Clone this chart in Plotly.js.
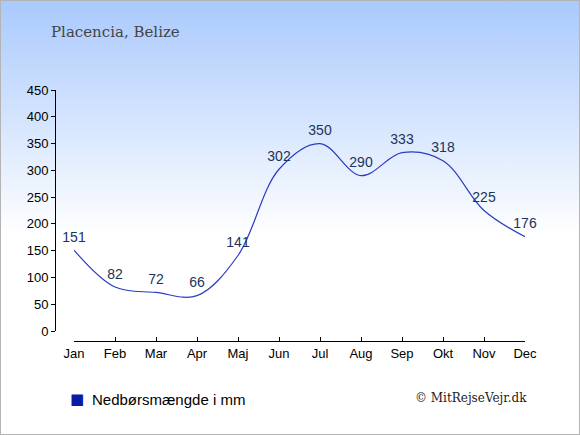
<!DOCTYPE html>
<html>
<head>
<meta charset="utf-8">
<script src="https://cdn.plot.ly/plotly-3.0.1.min.js"></script>
<style>
html,body{margin:0;padding:0;}
body{width:580px;height:435px;background:linear-gradient(to bottom,#a9c9fd 0px,#ffffff 235px,#ffffff 435px);position:relative;overflow:hidden;}
#chart{width:580px;height:435px;}
#frame{position:absolute;left:0;top:0;width:578px;height:433px;border:1px solid #b4b4b4;pointer-events:none;}
</style>
</head>
<body>
<div id="chart"></div>
<div id="frame"></div>
<script>
const months = ["Jan","Feb","Mar","Apr","Maj","Jun","Jul","Aug","Sep","Okt","Nov","Dec"];
const rainfall = [151,82,72,66,141,302,350,290,333,318,225,176];
const seriesName = "Nedbørsmængde i mm";
const yTicks = [0,50,100,150,200,250,300,350,400,450];

const lineTrace = {
  x: months, y: rainfall,
  type: "scatter", mode: "lines+markers+text",
  line: {color: "#2a3cc0", width: 1.2, shape: "spline", smoothing: 1},
  marker: {size: 6, opacity: 0, color: "#2a3cc0"},
  text: rainfall.map(String),
  textposition: "top center",
  textfont: {family: "Liberation Sans, Arial, sans-serif", size: 14, color: "#22335a"},
  cliponaxis: false,
  showlegend: false, hoverinfo: "x+y"
};

const layout = {
  width: 580, height: 435,
  margin: {l: 55, r: 55, t: 90, b: 94},
  paper_bgcolor: "rgba(0,0,0,0)", plot_bgcolor: "rgba(0,0,0,0)",
  font: {family: "Liberation Sans, Arial, sans-serif", size: 13, color: "#000"},
  showlegend: false,
  title: {
    text: "Placencia, Belize", xref: "container", yref: "container",
    x: 51/580, xanchor: "left", y: 1 - 32/435, yanchor: "middle",
    font: {family: "DejaVu Serif, serif", size: 15, color: "#444444"}
  },
  xaxis: {
    type: "category", range: [0, 11], domain: [19/470, 1],
    anchor: "free", position: 0,
    showline: true, linecolor: "#000", linewidth: 1,
    ticks: "inside", ticklen: 4, tickcolor: "#000",
    showgrid: false, zeroline: false, fixedrange: true,
    tickfont: {size: 13, color: "#000"}
  },
  yaxis: {
    range: [0, 450], tickvals: yTicks, domain: [10/251, 1],
    anchor: "free", position: 0,
    showline: true, linecolor: "#000", linewidth: 1,
    ticks: "outside", ticklen: 4, tickcolor: "#000",
    showgrid: false, zeroline: false, fixedrange: true,
    tickfont: {size: 13, color: "#000"}
  },
  annotations: [
    {
      text: "■", xref: "paper", yref: "paper",
      x: 22/470, y: -58/251, xanchor: "center", yanchor: "middle", showarrow: false,
      font: {family: "DejaVu Sans, sans-serif", size: 15, color: "#0a1aa8"}
    },
    {
      text: seriesName, xref: "paper", yref: "paper",
      x: 35/470, y: -58/251, xanchor: "left", yanchor: "middle", showarrow: false,
      font: {family: "Liberation Sans, Arial, sans-serif", size: 15, color: "#000"}
    },
    {
      text: "© MitRejseVejr.dk", xref: "paper", yref: "paper",
      x: 1.009, y: -57/251, xanchor: "right", yanchor: "middle", showarrow: false,
      font: {family: "DejaVu Serif, serif", size: 12, color: "#222"}
    }
  ]
};

Plotly.newPlot("chart", [lineTrace], layout, {displayModeBar: false, staticPlot: true});
</script>
</body>
</html>
